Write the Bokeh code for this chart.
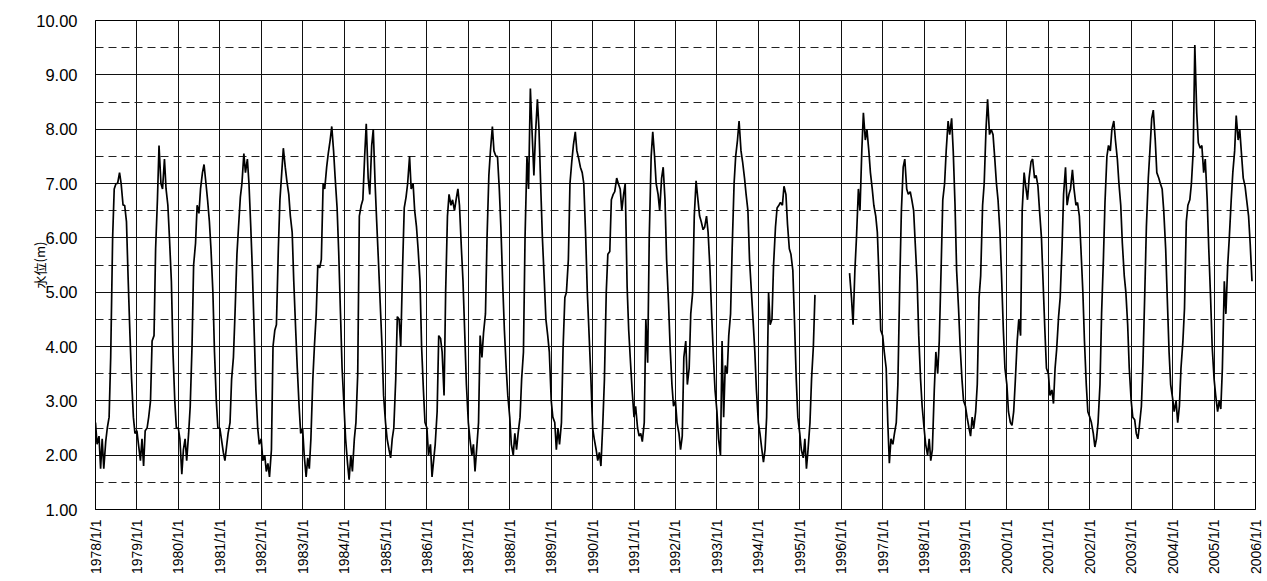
import pandas as pd
from math import pi
from bokeh.plotting import figure
from bokeh.models import (FixedTicker, CustomJSTickFormatter, NumeralTickFormatter,
                          Range1d, ColumnDataSource)
from bokeh.embed import file_html
from bokeh.resources import INLINE

nan = float("nan")

# Water level (m), read twice a month (1st and 15th), one row per year
level = [
    2.6, 2.2, 2.35, 1.75, 2.3, 1.75, 2.25, 2.5, 2.7, 3.8, 6.0, 6.9, 7.0, 7.0, 7.2, 7.0, 6.6, 6.6, 6.3, 5.3, 4.2, 3.4, 2.7, 2.4,        # 1978
    2.45, 2.2, 1.9, 2.3, 1.8, 2.45, 2.5, 2.7, 3.0, 4.1, 4.2, 5.8, 6.7, 7.7, 7.0, 6.9, 7.45, 6.9, 6.6, 6.0, 5.2, 3.9, 3.0, 2.5,       # 1979
    2.5, 2.3, 1.65, 2.1, 2.3, 1.9, 2.4, 2.9, 4.0, 5.5, 5.9, 6.6, 6.45, 6.9, 7.2, 7.35, 7.0, 6.7, 6.3, 5.8, 5.0, 3.9, 3.0, 2.5,       # 1980
    2.5, 2.3, 2.05, 1.9, 2.15, 2.4, 2.6, 3.4, 3.8, 4.6, 5.7, 6.2, 6.75, 7.0, 7.55, 7.2, 7.45, 7.0, 6.2, 5.4, 4.2, 3.2, 2.5, 2.2,     # 1981
    2.3, 1.9, 2.0, 1.7, 1.85, 1.6, 2.1, 4.0, 4.3, 4.4, 5.8, 6.7, 7.2, 7.65, 7.3, 7.05, 6.8, 6.4, 6.1, 5.2, 4.3, 3.6, 2.9, 2.4,       # 1982
    2.5, 2.0, 1.6, 1.95, 1.75, 2.3, 3.4, 4.0, 4.6, 5.5, 5.45, 5.6, 7.0, 6.9, 7.3, 7.55, 7.8, 8.05, 7.6, 7.1, 6.55, 5.75, 4.6, 3.6,   # 1983
    2.9, 2.3, 1.85, 1.55, 2.0, 1.7, 2.3, 2.6, 3.5, 6.4, 6.6, 6.7, 7.5, 8.1, 7.1, 6.8, 7.7, 8.0, 7.0, 6.3, 5.5, 4.8, 4.0, 3.1,        # 1984
    2.6, 2.3, 2.1, 1.95, 2.3, 2.5, 3.4, 4.55, 4.5, 4.0, 5.5, 6.55, 6.75, 7.0, 7.5, 6.9, 7.0, 6.5, 6.2, 5.8, 5.2, 4.0, 3.2, 2.6,      # 1985
    2.5, 2.0, 2.2, 1.6, 1.9, 2.2, 2.8, 4.2, 4.15, 3.9, 3.1, 5.0, 6.4, 6.8, 6.6, 6.7, 6.5, 6.7, 6.9, 6.6, 5.8, 5.2, 4.2, 3.3,         # 1986
    2.6, 2.3, 2.0, 2.2, 1.7, 2.1, 2.6, 4.2, 3.8, 4.25, 4.6, 6.0, 7.15, 7.6, 8.05, 7.6, 7.5, 7.5, 6.9, 6.2, 5.1, 4.3, 3.6, 3.1,       # 1987
    2.7, 2.2, 2.0, 2.4, 2.1, 2.4, 2.7, 3.4, 3.9, 6.0, 7.5, 6.9, 8.75, 8.0, 7.15, 7.9, 8.55, 8.0, 6.9, 6.0, 5.2, 4.5, 4.2, 3.9,       # 1988
    3.0, 2.7, 2.6, 2.1, 2.5, 2.2, 2.6, 3.95, 4.9, 5.0, 5.6, 7.0, 7.4, 7.7, 7.95, 7.6, 7.45, 7.3, 7.2, 7.0, 6.0, 5.0, 4.2, 3.5,       # 1989
    2.5, 2.3, 2.1, 1.9, 2.05, 1.8, 2.6, 3.4, 5.0, 5.7, 5.75, 6.7, 6.8, 6.85, 7.1, 7.0, 6.9, 6.5, 6.8, 7.0, 5.1, 4.3, 3.7, 3.2,       # 1990
    2.7, 2.9, 2.5, 2.35, 2.4, 2.25, 2.6, 4.5, 3.7, 6.0, 7.5, 7.95, 7.5, 7.0, 6.8, 6.5, 7.1, 7.3, 6.7, 5.6, 4.8, 4.0, 3.3, 2.9,       # 1991
    3.0, 2.6, 2.4, 2.1, 2.35, 3.8, 4.1, 3.3, 3.6, 4.6, 5.0, 6.4, 7.05, 6.75, 6.4, 6.3, 6.15, 6.2, 6.4, 6.1, 5.4, 4.6, 3.8, 3.2,      # 1992
    2.8, 2.3, 2.0, 4.1, 2.7, 3.65, 3.5, 4.2, 4.6, 5.8, 7.0, 7.5, 7.8, 8.15, 7.6, 7.4, 7.1, 6.8, 6.5, 5.6, 5.0, 4.5, 3.9, 3.2,        # 1993
    2.6, 2.4, 2.1, 1.87, 2.1, 2.7, 5.0, 4.4, 4.5, 5.5, 6.2, 6.55, 6.6, 6.65, 6.6, 6.95, 6.8, 6.25, 5.8, 5.7, 5.4, 4.5, 3.4, 2.7,     # 1994
    2.4, 2.1, 1.95, 2.3, 1.75, 2.1, 2.6, 3.4, 4.0, 4.95, nan, nan, nan, nan, nan, nan, nan, nan, nan, nan, nan, nan, nan, nan,       # 1995
    nan, nan, nan, nan, nan, 5.35, 4.9, 4.4, 5.4, 6.0, 6.9, 6.5, 7.6, 8.3, 7.8, 8.0, 7.6, 7.2, 6.9, 6.6, 6.4, 6.1, 5.2, 4.3,         # 1996
    4.2, 3.9, 3.6, 2.6, 1.85, 2.3, 2.2, 2.4, 2.6, 3.3, 5.2, 6.5, 7.3, 7.45, 6.9, 6.8, 6.85, 6.7, 6.5, 5.9, 5.2, 4.2, 3.4, 2.9,       # 1997
    2.5, 2.2, 2.0, 2.3, 1.9, 2.1, 3.2, 3.9, 3.5, 4.1, 5.5, 6.7, 7.0, 7.6, 8.15, 7.9, 8.2, 7.6, 6.6, 5.4, 4.7, 4.0, 3.4, 3.0,         # 1998
    2.9, 2.7, 2.5, 2.35, 2.7, 2.5, 2.8, 3.3, 4.9, 5.3, 6.6, 7.0, 8.0, 8.55, 7.9, 8.0, 7.9, 7.5, 7.0, 6.7, 6.1, 5.3, 4.3, 3.6,        # 1999
    3.3, 2.8, 2.6, 2.55, 2.8, 3.35, 4.1, 4.5, 4.2, 6.5, 7.2, 6.95, 6.7, 7.1, 7.4, 7.45, 7.1, 7.15, 6.95, 6.5, 6.0, 5.2, 4.3, 3.6,    # 2000
    3.5, 3.1, 3.2, 2.95, 3.6, 3.95, 4.55, 4.9, 5.8, 6.8, 7.3, 6.6, 6.8, 6.9, 7.25, 6.9, 6.6, 6.65, 6.4, 5.8, 5.0, 4.1, 3.3, 2.8,     # 2001
    2.7, 2.6, 2.4, 2.15, 2.3, 2.6, 3.3, 4.6, 5.6, 6.65, 7.5, 7.7, 7.6, 8.0, 8.15, 7.8, 7.45, 7.0, 6.6, 5.9, 5.3, 5.0, 4.4, 3.6,      # 2002
    3.0, 2.7, 2.65, 2.4, 2.3, 2.55, 2.9, 3.7, 5.0, 6.2, 7.1, 7.6, 8.2, 8.35, 7.8, 7.2, 7.1, 7.0, 6.9, 6.5, 5.8, 4.9, 3.9, 3.3,       # 2003
    3.05, 2.8, 3.0, 2.6, 2.9, 3.6, 4.1, 4.7, 6.3, 6.6, 6.7, 7.0, 7.6, 9.55, 8.3, 7.75, 7.65, 7.7, 7.2, 7.45, 6.7, 5.8, 4.9, 4.0,     # 2004
    3.4, 3.1, 2.8, 3.0, 2.85, 3.6, 5.2, 4.6, 5.5, 6.0, 6.7, 7.2, 7.6, 8.25, 7.8, 8.0, 7.5, 7.1, 6.95, 6.7, 6.4, 5.9, 5.2, nan,       # 2005
]

dates = pd.date_range("1978-01-01", "2005-12-15", freq="SMS")

tick_years = list(range(1978, 2007))
tick_labels = [f"{y}/1/1" for y in tick_years]
y_ticks = [1, 2, 3, 4, 5, 6, 7, 8, 9, 10]
y_half_ticks = [1.5, 2.5, 3.5, 4.5, 5.5, 6.5, 7.5, 8.5, 9.5]

tick_ms = [pd.Timestamp(f"{y}-01-01").value / 1e6 for y in tick_years]

source = ColumnDataSource(dict(date=dates, level=level))

p = figure(width=1267, height=581, x_axis_type="datetime",
           output_backend="svg", toolbar_location=None,
           x_range=Range1d(pd.Timestamp("1978-01-01"), pd.Timestamp("2006-01-01")),
           y_range=Range1d(1, 10),
           min_border_left=95, min_border_right=12, min_border_top=20, min_border_bottom=72)

p.background_fill_color = "white"
p.border_fill_color = "white"
p.outline_line_color = "black"
p.outline_line_width = 1

xticker = FixedTicker(ticks=tick_ms)
yticker = FixedTicker(ticks=y_ticks, minor_ticks=y_half_ticks)

p.xaxis.ticker = xticker
p.xgrid.ticker = xticker
p.yaxis.ticker = yticker
p.ygrid.ticker = yticker

p.xaxis.formatter = CustomJSTickFormatter(
    args=dict(tick_vals=tick_ms, tick_text=tick_labels),
    code="""
        let best = 0, bd = Infinity;
        for (let i = 0; i < tick_vals.length; i++) {
            const d = Math.abs(tick_vals[i] - tick);
            if (d < bd) { bd = d; best = i; }
        }
        return tick_text[best];
    """)
p.yaxis.formatter = NumeralTickFormatter(format="0.00")

p.xgrid.grid_line_color = "#111111"
p.xgrid.grid_line_width = 1
p.ygrid.grid_line_color = "#111111"
p.ygrid.grid_line_width = 1
p.ygrid.minor_grid_line_color = "#222222"
p.ygrid.minor_grid_line_width = 1
p.ygrid.minor_grid_line_dash = "8 5"

for ax in (p.xaxis, p.yaxis):
    ax.axis_line_color = "black"
    ax.axis_line_width = 1
    ax.major_tick_line_color = None
    ax.minor_tick_line_color = None
    ax.major_tick_in = 0
    ax.major_tick_out = 0
    ax.minor_tick_in = 0
    ax.minor_tick_out = 0
    ax.major_label_text_font = "Liberation Sans"
    ax.major_label_text_color = "black"

p.xaxis.major_label_orientation = pi / 2
p.xaxis.major_label_text_font_size = "14px"
p.xaxis.major_label_standoff = 10

p.yaxis.major_label_text_font_size = "16.5px"
p.yaxis.major_label_standoff = 18
p.yaxis.axis_label = "水位(m)"
p.yaxis.axis_label_text_font = "Noto Sans CJK JP"
p.yaxis.axis_label_text_font_size = "13px"
p.yaxis.axis_label_text_font_style = "normal"
p.yaxis.axis_label_text_color = "black"
p.yaxis.axis_label_standoff = -16

p.line(x="date", y="level", source=source, line_color="black", line_width=1.7)

open("out.html", "w").write(file_html(p, INLINE))
